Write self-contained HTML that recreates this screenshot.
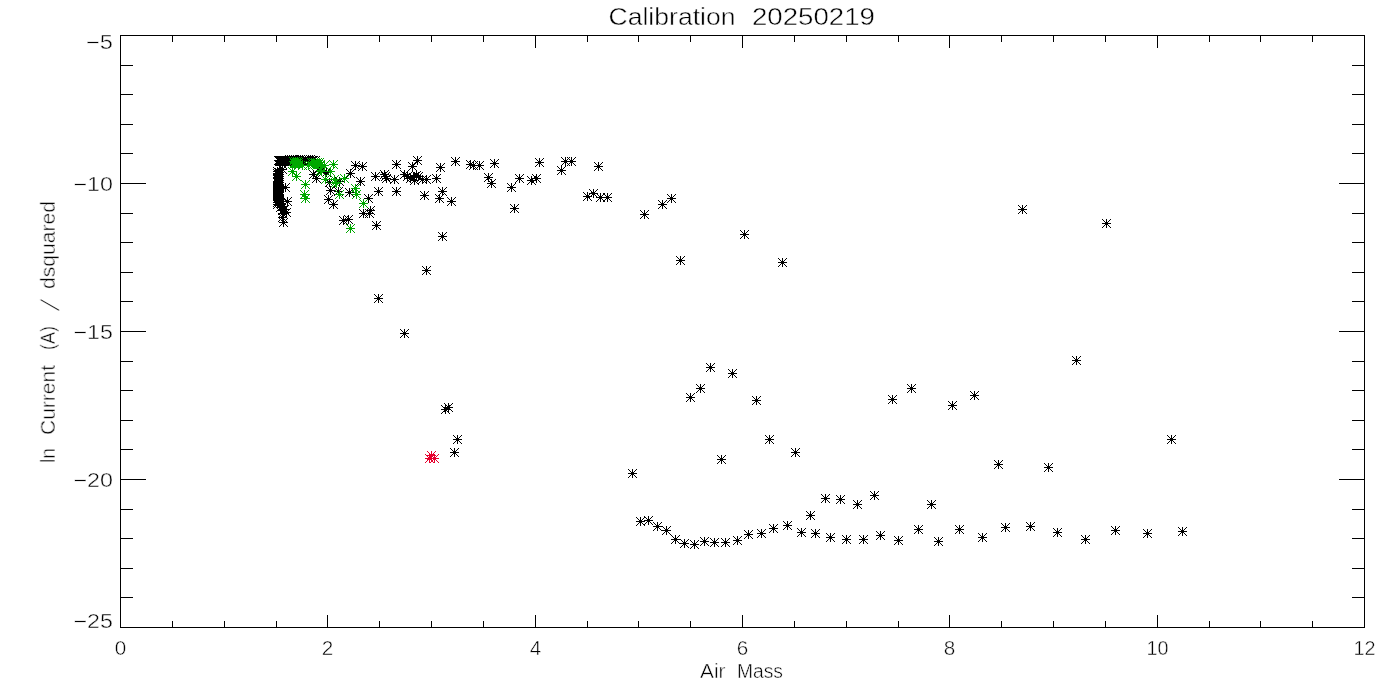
<!DOCTYPE html>
<html lang="en"><head><meta charset="utf-8"><title>Calibration 20250219</title>
<style>
html,body{margin:0;padding:0;background:#fff;}
body{width:1400px;height:700px;overflow:hidden;}
svg{display:block;}
text{font-family:"Liberation Sans","DejaVu Sans",sans-serif;fill:#000;stroke:#fff;stroke-width:0.45px;}
</style></head><body>
<svg width="1400" height="700" viewBox="0 0 1400 700">
<rect width="1400" height="700" fill="#fff"/>
<g fill="none" stroke-width="1" shape-rendering="crispEdges">
<path stroke="#000" d="M120.5 35.5H1364.5V627.5H120.5ZM172.5 628v-7M172.5 35v7M224.5 628v-7M224.5 35v7M276.5 628v-7M276.5 35v7M327.5 628v-13M327.5 35v13M379.5 628v-7M379.5 35v7M431.5 628v-7M431.5 35v7M483.5 628v-7M483.5 35v7M535.5 628v-13M535.5 35v13M587.5 628v-7M587.5 35v7M638.5 628v-7M638.5 35v7M690.5 628v-7M690.5 35v7M742.5 628v-13M742.5 35v13M794.5 628v-7M794.5 35v7M846.5 628v-7M846.5 35v7M898.5 628v-7M898.5 35v7M949.5 628v-13M949.5 35v13M1001.5 628v-7M1001.5 35v7M1053.5 628v-7M1053.5 35v7M1105.5 628v-7M1105.5 35v7M1157.5 628v-13M1157.5 35v13M1209.5 628v-7M1209.5 35v7M1260.5 628v-7M1260.5 35v7M1312.5 628v-7M1312.5 35v7M120 65.5h13M1365 65.5h-13M120 94.5h13M1365 94.5h-13M120 124.5h13M1365 124.5h-13M120 153.5h13M1365 153.5h-13M120 183.5h26M1365 183.5h-26M120 213.5h13M1365 213.5h-13M120 242.5h13M1365 242.5h-13M120 272.5h13M1365 272.5h-13M120 301.5h13M1365 301.5h-13M120 331.5h26M1365 331.5h-26M120 361.5h13M1365 361.5h-13M120 390.5h13M1365 390.5h-13M120 420.5h13M1365 420.5h-13M120 449.5h13M1365 449.5h-13M120 479.5h26M1365 479.5h-26M120 509.5h13M1365 509.5h-13M120 538.5h13M1365 538.5h-13M120 568.5h13M1365 568.5h-13M120 597.5h13M1365 597.5h-13"/>
<path stroke="#000" d="M274 160.5h9M278.5 156v9M274 156l9 9M283 156l-9 9M275 160.5h9M279.5 156v9M275 156l9 9M284 156l-9 9M276 160.5h9M280.5 156v9M276 156l9 9M285 156l-9 9M277 160.5h9M281.5 156v9M277 156l9 9M286 156l-9 9M278 160.5h9M282.5 156v9M278 156l9 9M287 156l-9 9M279 160.5h9M283.5 156v9M279 156l9 9M288 156l-9 9M280 160.5h9M284.5 156v9M280 156l9 9M289 156l-9 9M281 160.5h9M285.5 156v9M281 156l9 9M290 156l-9 9M282 160.5h9M286.5 156v9M282 156l9 9M291 156l-9 9M283 160.5h9M287.5 156v9M283 156l9 9M292 156l-9 9M284 160.5h9M288.5 156v9M284 156l9 9M293 156l-9 9M285 160.5h9M289.5 156v9M285 156l9 9M294 156l-9 9M286 160.5h9M290.5 156v9M286 156l9 9M295 156l-9 9M287 160.5h9M291.5 156v9M287 156l9 9M296 156l-9 9M288 160.5h9M292.5 156v9M288 156l9 9M297 156l-9 9M289 160.5h9M293.5 156v9M289 156l9 9M298 156l-9 9M290 160.5h9M294.5 156v9M290 156l9 9M299 156l-9 9M291 160.5h9M295.5 156v9M291 156l9 9M300 156l-9 9M292 160.5h9M296.5 156v9M292 156l9 9M301 156l-9 9M293 160.5h9M297.5 156v9M293 156l9 9M302 156l-9 9M294 160.5h9M298.5 156v9M294 156l9 9M303 156l-9 9M295 160.5h9M299.5 156v9M295 156l9 9M304 156l-9 9M275 161.5h9M279.5 157v9M275 157l9 9M284 157l-9 9M276 161.5h9M280.5 157v9M276 157l9 9M285 157l-9 9M277 161.5h9M281.5 157v9M277 157l9 9M286 157l-9 9M279 161.5h9M283.5 157v9M279 157l9 9M288 157l-9 9M280 161.5h9M284.5 157v9M280 157l9 9M289 157l-9 9M282 161.5h9M286.5 157v9M282 157l9 9M291 157l-9 9M283 161.5h9M287.5 157v9M283 157l9 9M292 157l-9 9M286 161.5h9M290.5 157v9M286 157l9 9M295 157l-9 9M285 159.5h9M289.5 155v9M285 155l9 9M294 155l-9 9M287 159.5h9M291.5 155v9M287 155l9 9M296 155l-9 9M289 159.5h9M293.5 155v9M289 155l9 9M298 155l-9 9M296 159.5h9M300.5 155v9M296 155l9 9M305 155l-9 9M298 159.5h9M302.5 155v9M298 155l9 9M307 155l-9 9M299 160.5h9M303.5 156v9M299 156l9 9M308 156l-9 9M301 160.5h9M305.5 156v9M301 156l9 9M310 156l-9 9M303 160.5h9M307.5 156v9M303 156l9 9M312 156l-9 9M304 159.5h9M308.5 155v9M304 155l9 9M313 155l-9 9M306 159.5h9M310.5 155v9M306 155l9 9M315 155l-9 9M307 160.5h9M311.5 156v9M307 156l9 9M316 156l-9 9M309 160.5h9M313.5 156v9M309 156l9 9M318 156l-9 9M300 161.5h9M304.5 157v9M300 157l9 9M309 157l-9 9M305 161.5h9M309.5 157v9M305 157l9 9M314 157l-9 9M308 160.5h9M312.5 156v9M308 156l9 9M317 156l-9 9M311 160.5h9M315.5 156v9M311 156l9 9M320 156l-9 9M273 171.5h9M277.5 167v9M273 167l9 9M282 167l-9 9M275 172.5h9M279.5 168v9M275 168l9 9M284 168l-9 9M275 172.5h9M279.5 168v9M275 168l9 9M284 168l-9 9M273 173.5h9M277.5 169v9M273 169l9 9M282 169l-9 9M274 174.5h9M278.5 170v9M274 170l9 9M283 170l-9 9M275 174.5h9M279.5 170v9M275 170l9 9M284 170l-9 9M274 175.5h9M278.5 171v9M274 171l9 9M283 171l-9 9M275 176.5h9M279.5 172v9M275 172l9 9M284 172l-9 9M275 176.5h9M279.5 172v9M275 172l9 9M284 172l-9 9M273 177.5h9M277.5 173v9M273 173l9 9M282 173l-9 9M275 178.5h9M279.5 174v9M275 174l9 9M284 174l-9 9M273 178.5h9M277.5 174v9M273 174l9 9M282 174l-9 9M274 179.5h9M278.5 175v9M274 175l9 9M283 175l-9 9M274 180.5h9M278.5 176v9M274 176l9 9M283 176l-9 9M275 180.5h9M279.5 176v9M275 176l9 9M284 176l-9 9M273 181.5h9M277.5 177v9M273 177l9 9M282 177l-9 9M273 182.5h9M277.5 178v9M273 178l9 9M282 178l-9 9M275 182.5h9M279.5 178v9M275 178l9 9M284 178l-9 9M274 183.5h9M278.5 179v9M274 179l9 9M283 179l-9 9M275 184.5h9M279.5 180v9M275 180l9 9M284 180l-9 9M275 184.5h9M279.5 180v9M275 180l9 9M284 180l-9 9M274 185.5h9M278.5 181v9M274 181l9 9M283 181l-9 9M274 186.5h9M278.5 182v9M274 182l9 9M283 182l-9 9M275 186.5h9M279.5 182v9M275 182l9 9M284 182l-9 9M273 187.5h9M277.5 183v9M273 183l9 9M282 183l-9 9M273 188.5h9M277.5 184v9M273 184l9 9M282 184l-9 9M275 188.5h9M279.5 184v9M275 184l9 9M284 184l-9 9M273 189.5h9M277.5 185v9M273 185l9 9M282 185l-9 9M275 190.5h9M279.5 186v9M275 186l9 9M284 186l-9 9M274 190.5h9M278.5 186v9M274 186l9 9M283 186l-9 9M275 191.5h9M279.5 187v9M275 187l9 9M284 187l-9 9M273 192.5h9M277.5 188v9M273 188l9 9M282 188l-9 9M275 192.5h9M279.5 188v9M275 188l9 9M284 188l-9 9M273 193.5h9M277.5 189v9M273 189l9 9M282 189l-9 9M273 194.5h9M277.5 190v9M273 190l9 9M282 190l-9 9M275 194.5h9M279.5 190v9M275 190l9 9M284 190l-9 9M273 195.5h9M277.5 191v9M273 191l9 9M282 191l-9 9M274 196.5h9M278.5 192v9M274 192l9 9M283 192l-9 9M273 196.5h9M277.5 192v9M273 192l9 9M282 192l-9 9M274 197.5h9M278.5 193v9M274 193l9 9M283 193l-9 9M274 198.5h9M278.5 194v9M274 194l9 9M283 194l-9 9M275 198.5h9M279.5 194v9M275 194l9 9M284 194l-9 9M275 199.5h9M279.5 195v9M275 195l9 9M284 195l-9 9M274 200.5h9M278.5 196v9M274 196l9 9M283 196l-9 9M275 200.5h9M279.5 196v9M275 196l9 9M284 196l-9 9M278 164.5h9M282.5 160v9M278 160l9 9M287 160l-9 9M278 169.5h9M282.5 165v9M278 165l9 9M287 165l-9 9M273 202.5h9M277.5 198v9M273 198l9 9M282 198l-9 9M275 201.5h9M279.5 197v9M275 197l9 9M284 197l-9 9M276 203.5h9M280.5 199v9M276 199l9 9M285 199l-9 9M273 204.5h9M277.5 200v9M273 200l9 9M282 200l-9 9M277 204.5h9M281.5 200v9M277 200l9 9M286 200l-9 9M278 206.5h9M282.5 202v9M278 202l9 9M287 202l-9 9M276 207.5h9M280.5 203v9M276 203l9 9M285 203l-9 9M280 209.5h9M284.5 205v9M280 205l9 9M289 205l-9 9M278 210.5h9M282.5 206v9M278 206l9 9M287 206l-9 9M282 212.5h9M286.5 208v9M282 208l9 9M291 208l-9 9M278 213.5h9M282.5 209v9M278 209l9 9M287 209l-9 9M281 187.5h9M285.5 183v9M281 183l9 9M290 183l-9 9M283 201.5h9M287.5 197v9M283 197l9 9M292 197l-9 9M278 217.5h9M282.5 213v9M278 213l9 9M287 213l-9 9M279 222.5h9M283.5 218v9M279 218l9 9M288 218l-9 9M309 174.5h9M313.5 170v9M309 170l9 9M318 170l-9 9M312 178.5h9M316.5 174v9M312 174l9 9M321 174l-9 9M334 191.5h9M338.5 187v9M334 187l9 9M343 187l-9 9M325 182.5h9M329.5 178v9M325 178l9 9M334 178l-9 9M335 181.5h9M339.5 177v9M335 177l9 9M344 177l-9 9M326 190.5h9M330.5 186v9M326 186l9 9M335 186l-9 9M324 199.5h9M328.5 195v9M324 195l9 9M333 195l-9 9M329 204.5h9M333.5 200v9M329 200l9 9M338 200l-9 9M345 192.5h9M349.5 188v9M345 188l9 9M354 188l-9 9M346 173.5h9M350.5 169v9M346 169l9 9M355 169l-9 9M339 220.5h9M343.5 216v9M339 216l9 9M348 216l-9 9M344 219.5h9M348.5 215v9M344 215l9 9M353 215l-9 9M314 168.5h9M318.5 164v9M314 164l9 9M323 164l-9 9M317 170.5h9M321.5 166v9M317 166l9 9M326 166l-9 9M322 172.5h9M326.5 168v9M322 168l9 9M331 168l-9 9M351 165.5h9M355.5 161v9M351 161l9 9M360 161l-9 9M358 166.5h9M362.5 162v9M358 162l9 9M367 162l-9 9M356 181.5h9M360.5 177v9M356 177l9 9M365 177l-9 9M371 176.5h9M375.5 172v9M371 172l9 9M380 172l-9 9M380 174.5h9M384.5 170v9M380 170l9 9M389 170l-9 9M381 176.5h9M385.5 172v9M381 172l9 9M390 172l-9 9M382 178.5h9M386.5 174v9M382 174l9 9M391 174l-9 9M390 179.5h9M394.5 175v9M390 175l9 9M399 175l-9 9M392 164.5h9M396.5 160v9M392 160l9 9M401 160l-9 9M374 191.5h9M378.5 187v9M374 187l9 9M383 187l-9 9M392 191.5h9M396.5 187v9M392 187l9 9M401 187l-9 9M364 198.5h9M368.5 194v9M364 194l9 9M373 194l-9 9M359 213.5h9M363.5 209v9M359 209l9 9M368 209l-9 9M365 213.5h9M369.5 209v9M365 209l9 9M374 209l-9 9M366 210.5h9M370.5 206v9M366 206l9 9M375 206l-9 9M372 225.5h9M376.5 221v9M372 221l9 9M381 221l-9 9M408 166.5h9M412.5 162v9M408 162l9 9M417 162l-9 9M413 160.5h9M417.5 156v9M413 156l9 9M422 156l-9 9M400 174.5h9M404.5 170v9M400 170l9 9M409 170l-9 9M403 176.5h9M407.5 172v9M403 172l9 9M412 172l-9 9M406 178.5h9M410.5 174v9M406 174l9 9M415 174l-9 9M409 177.5h9M413.5 173v9M409 173l9 9M418 173l-9 9M412 175.5h9M416.5 171v9M412 171l9 9M421 171l-9 9M410 180.5h9M414.5 176v9M410 176l9 9M419 176l-9 9M414 176.5h9M418.5 172v9M414 172l9 9M423 172l-9 9M418 179.5h9M422.5 175v9M418 175l9 9M427 175l-9 9M422 179.5h9M426.5 175v9M422 175l9 9M431 175l-9 9M432 178.5h9M436.5 174v9M432 174l9 9M441 174l-9 9M436 167.5h9M440.5 163v9M436 163l9 9M445 163l-9 9M451 161.5h9M455.5 157v9M451 157l9 9M460 157l-9 9M420 195.5h9M424.5 191v9M420 191l9 9M429 191l-9 9M438 191.5h9M442.5 187v9M438 187l9 9M447 187l-9 9M435 198.5h9M439.5 194v9M435 194l9 9M444 194l-9 9M447 201.5h9M451.5 197v9M447 197l9 9M456 197l-9 9M438 236.5h9M442.5 232v9M438 232l9 9M447 232l-9 9M466 164.5h9M470.5 160v9M466 160l9 9M475 160l-9 9M469 165.5h9M473.5 161v9M469 161l9 9M478 161l-9 9M475 165.5h9M479.5 161v9M475 161l9 9M484 161l-9 9M490 163.5h9M494.5 159v9M490 159l9 9M499 159l-9 9M484 177.5h9M488.5 173v9M484 173l9 9M493 173l-9 9M487 183.5h9M491.5 179v9M487 179l9 9M496 179l-9 9M507 187.5h9M511.5 183v9M507 183l9 9M516 183l-9 9M515 178.5h9M519.5 174v9M515 174l9 9M524 174l-9 9M510 208.5h9M514.5 204v9M510 204l9 9M519 204l-9 9M527 180.5h9M531.5 176v9M527 176l9 9M536 176l-9 9M532 178.5h9M536.5 174v9M532 174l9 9M541 174l-9 9M535 162.5h9M539.5 158v9M535 158l9 9M544 158l-9 9M557 170.5h9M561.5 166v9M557 166l9 9M566 166l-9 9M561 161.5h9M565.5 157v9M561 157l9 9M570 157l-9 9M567 161.5h9M571.5 157v9M567 157l9 9M576 157l-9 9M594 166.5h9M598.5 162v9M594 162l9 9M603 162l-9 9M583 196.5h9M587.5 192v9M583 192l9 9M592 192l-9 9M589 193.5h9M593.5 189v9M589 189l9 9M598 189l-9 9M596 197.5h9M600.5 193v9M596 193l9 9M605 193l-9 9M603 197.5h9M607.5 193v9M603 193l9 9M612 193l-9 9M640 214.5h9M644.5 210v9M640 210l9 9M649 210l-9 9M658 204.5h9M662.5 200v9M658 200l9 9M667 200l-9 9M667 198.5h9M671.5 194v9M667 194l9 9M676 194l-9 9M676 260.5h9M680.5 256v9M676 256l9 9M685 256l-9 9M740 234.5h9M744.5 230v9M740 230l9 9M749 230l-9 9M778 262.5h9M782.5 258v9M778 258l9 9M787 258l-9 9M422 270.5h9M426.5 266v9M422 266l9 9M431 266l-9 9M374 298.5h9M378.5 294v9M374 294l9 9M383 294l-9 9M400 333.5h9M404.5 329v9M400 329l9 9M409 329l-9 9M441 409.5h9M445.5 405v9M441 405l9 9M450 405l-9 9M444 407.5h9M448.5 403v9M444 403l9 9M453 403l-9 9M453 439.5h9M457.5 435v9M453 435l9 9M462 435l-9 9M450 452.5h9M454.5 448v9M450 448l9 9M459 448l-9 9M628 473.5h9M632.5 469v9M628 469l9 9M637 469l-9 9M686 397.5h9M690.5 393v9M686 393l9 9M695 393l-9 9M696 388.5h9M700.5 384v9M696 384l9 9M705 384l-9 9M706 367.5h9M710.5 363v9M706 363l9 9M715 363l-9 9M728 373.5h9M732.5 369v9M728 369l9 9M737 369l-9 9M752 400.5h9M756.5 396v9M752 396l9 9M761 396l-9 9M765 439.5h9M769.5 435v9M765 435l9 9M774 435l-9 9M791 452.5h9M795.5 448v9M791 448l9 9M800 448l-9 9M717 459.5h9M721.5 455v9M717 455l9 9M726 455l-9 9M636 521.5h9M640.5 517v9M636 517l9 9M645 517l-9 9M644 520.5h9M648.5 516v9M644 516l9 9M653 516l-9 9M653 526.5h9M657.5 522v9M653 522l9 9M662 522l-9 9M662 530.5h9M666.5 526v9M662 526l9 9M671 526l-9 9M671 539.5h9M675.5 535v9M671 535l9 9M680 535l-9 9M680 543.5h9M684.5 539v9M680 539l9 9M689 539l-9 9M690 544.5h9M694.5 540v9M690 540l9 9M699 540l-9 9M700 541.5h9M704.5 537v9M700 537l9 9M709 537l-9 9M710 542.5h9M714.5 538v9M710 538l9 9M719 538l-9 9M721 542.5h9M725.5 538v9M721 538l9 9M730 538l-9 9M733 540.5h9M737.5 536v9M733 536l9 9M742 536l-9 9M744 534.5h9M748.5 530v9M744 530l9 9M753 530l-9 9M757 533.5h9M761.5 529v9M757 529l9 9M766 529l-9 9M769 528.5h9M773.5 524v9M769 524l9 9M778 524l-9 9M783 525.5h9M787.5 521v9M783 521l9 9M792 521l-9 9M797 532.5h9M801.5 528v9M797 528l9 9M806 528l-9 9M806 515.5h9M810.5 511v9M806 511l9 9M815 511l-9 9M811 533.5h9M815.5 529v9M811 529l9 9M820 529l-9 9M821 498.5h9M825.5 494v9M821 494l9 9M830 494l-9 9M836 499.5h9M840.5 495v9M836 495l9 9M845 495l-9 9M826 537.5h9M830.5 533v9M826 533l9 9M835 533l-9 9M842 539.5h9M846.5 535v9M842 535l9 9M851 535l-9 9M853 504.5h9M857.5 500v9M853 500l9 9M862 500l-9 9M859 539.5h9M863.5 535v9M859 535l9 9M868 535l-9 9M870 495.5h9M874.5 491v9M870 491l9 9M879 491l-9 9M876 535.5h9M880.5 531v9M876 531l9 9M885 531l-9 9M894 540.5h9M898.5 536v9M894 536l9 9M903 536l-9 9M914 529.5h9M918.5 525v9M914 525l9 9M923 525l-9 9M927 504.5h9M931.5 500v9M927 500l9 9M936 500l-9 9M934 541.5h9M938.5 537v9M934 537l9 9M943 537l-9 9M955 529.5h9M959.5 525v9M955 525l9 9M964 525l-9 9M978 537.5h9M982.5 533v9M978 533l9 9M987 533l-9 9M1001 527.5h9M1005.5 523v9M1001 523l9 9M1010 523l-9 9M1026 526.5h9M1030.5 522v9M1026 522l9 9M1035 522l-9 9M1053 532.5h9M1057.5 528v9M1053 528l9 9M1062 528l-9 9M1081 539.5h9M1085.5 535v9M1081 535l9 9M1090 535l-9 9M1111 530.5h9M1115.5 526v9M1111 526l9 9M1120 526l-9 9M1143 533.5h9M1147.5 529v9M1143 529l9 9M1152 529l-9 9M1178 531.5h9M1182.5 527v9M1178 527l9 9M1187 527l-9 9M888 399.5h9M892.5 395v9M888 395l9 9M897 395l-9 9M907 388.5h9M911.5 384v9M907 384l9 9M916 384l-9 9M948 405.5h9M952.5 401v9M948 401l9 9M957 401l-9 9M970 395.5h9M974.5 391v9M970 391l9 9M979 391l-9 9M994 464.5h9M998.5 460v9M994 460l9 9M1003 460l-9 9M1044 467.5h9M1048.5 463v9M1044 463l9 9M1053 463l-9 9M1072 360.5h9M1076.5 356v9M1072 356l9 9M1081 356l-9 9M1167 439.5h9M1171.5 435v9M1167 435l9 9M1176 435l-9 9M1018 209.5h9M1022.5 205v9M1018 205l9 9M1027 205l-9 9M1102 223.5h9M1106.5 219v9M1102 219l9 9M1111 219l-9 9"/>
<path stroke="#00a800" d="M289 161.5h9M293.5 157v9M289 157l9 9M298 157l-9 9M290 162.5h9M294.5 158v9M290 158l9 9M299 158l-9 9M291 161.5h9M295.5 157v9M291 157l9 9M300 157l-9 9M292 162.5h9M296.5 158v9M292 158l9 9M301 158l-9 9M293 161.5h9M297.5 157v9M293 157l9 9M302 157l-9 9M291 163.5h9M295.5 159v9M291 159l9 9M300 159l-9 9M292 163.5h9M296.5 159v9M292 159l9 9M301 159l-9 9M293 163.5h9M297.5 159v9M293 159l9 9M302 159l-9 9M294 162.5h9M298.5 158v9M294 158l9 9M303 158l-9 9M290 163.5h9M294.5 159v9M290 159l9 9M299 159l-9 9M294 164.5h9M298.5 160v9M294 160l9 9M303 160l-9 9M288 171.5h9M292.5 167v9M288 167l9 9M297 167l-9 9M292 176.5h9M296.5 172v9M292 172l9 9M301 172l-9 9M301 184.5h9M305.5 180v9M301 180l9 9M310 180l-9 9M300 194.5h9M304.5 190v9M300 190l9 9M309 190l-9 9M301 198.5h9M305.5 194v9M301 194l9 9M310 194l-9 9M298 165.5h9M302.5 161v9M298 161l9 9M307 161l-9 9M304 165.5h9M308.5 161v9M304 161l9 9M313 161l-9 9M307 162.5h9M311.5 158v9M307 158l9 9M316 158l-9 9M308 163.5h9M312.5 159v9M308 159l9 9M317 159l-9 9M309 162.5h9M313.5 158v9M309 158l9 9M318 158l-9 9M310 163.5h9M314.5 159v9M310 159l9 9M319 159l-9 9M311 164.5h9M315.5 160v9M311 160l9 9M320 160l-9 9M312 163.5h9M316.5 159v9M312 159l9 9M321 159l-9 9M313 162.5h9M317.5 158v9M313 158l9 9M322 158l-9 9M314 164.5h9M318.5 160v9M314 160l9 9M323 160l-9 9M315 162.5h9M319.5 158v9M315 158l9 9M324 158l-9 9M316 164.5h9M320.5 160v9M316 160l9 9M325 160l-9 9M309 164.5h9M313.5 160v9M309 160l9 9M318 160l-9 9M316 170.5h9M320.5 166v9M316 166l9 9M325 166l-9 9M317 171.5h9M321.5 167v9M317 167l9 9M326 167l-9 9M320 165.5h9M324.5 161v9M320 161l9 9M329 161l-9 9M329 164.5h9M333.5 160v9M329 160l9 9M338 160l-9 9M326 171.5h9M330.5 167v9M326 167l9 9M335 167l-9 9M321 179.5h9M325.5 175v9M321 175l9 9M330 175l-9 9M330 179.5h9M334.5 175v9M330 175l9 9M339 175l-9 9M331 182.5h9M335.5 178v9M331 178l9 9M340 178l-9 9M332 183.5h9M336.5 179v9M332 179l9 9M341 179l-9 9M340 178.5h9M344.5 174v9M340 174l9 9M349 174l-9 9M335 194.5h9M339.5 190v9M335 190l9 9M344 190l-9 9M351 188.5h9M355.5 184v9M351 184l9 9M360 184l-9 9M352 194.5h9M356.5 190v9M352 190l9 9M361 190l-9 9M359 203.5h9M363.5 199v9M359 199l9 9M368 199l-9 9M346 228.5h9M350.5 224v9M346 224l9 9M355 224l-9 9"/>
<path stroke="#e6002d" d="M427 455.5h9M431.5 451v9M427 451l9 9M436 451l-9 9M425 458.5h9M429.5 454v9M425 454l9 9M434 454l-9 9M430 458.5h9M434.5 454v9M430 454l9 9M439 454l-9 9"/>
</g>
<g opacity="0.999">
<text y="25" font-size="24.6"><tspan x="608.5" textLength="127" lengthAdjust="spacingAndGlyphs">Calibration</tspan> <tspan x="752" textLength="123" lengthAdjust="spacingAndGlyphs">20250219</tspan></text>
<text x="120.5" y="655" font-size="19.6" text-anchor="middle" textLength="11.5" lengthAdjust="spacingAndGlyphs">0</text>
<text x="327.5" y="655" font-size="19.6" text-anchor="middle" textLength="11.5" lengthAdjust="spacingAndGlyphs">2</text>
<text x="535.5" y="655" font-size="19.6" text-anchor="middle" textLength="11.5" lengthAdjust="spacingAndGlyphs">4</text>
<text x="742.5" y="655" font-size="19.6" text-anchor="middle" textLength="11.5" lengthAdjust="spacingAndGlyphs">6</text>
<text x="949.5" y="655" font-size="19.6" text-anchor="middle" textLength="11.5" lengthAdjust="spacingAndGlyphs">8</text>
<text x="1157.5" y="655" font-size="19.6" text-anchor="middle" textLength="22" lengthAdjust="spacingAndGlyphs">10</text>
<text x="1364.5" y="655" font-size="19.6" text-anchor="middle" textLength="22" lengthAdjust="spacingAndGlyphs">12</text>
<text x="113" y="49" font-size="19.6" text-anchor="end" textLength="27" lengthAdjust="spacingAndGlyphs">−5</text>
<text x="113" y="190.5" font-size="19.6" text-anchor="end" textLength="39.5" lengthAdjust="spacingAndGlyphs">−10</text>
<text x="113" y="338.5" font-size="19.6" text-anchor="end" textLength="39.5" lengthAdjust="spacingAndGlyphs">−15</text>
<text x="113" y="486.5" font-size="19.6" text-anchor="end" textLength="39.5" lengthAdjust="spacingAndGlyphs">−20</text>
<text x="113" y="628" font-size="19.6" text-anchor="end" textLength="39.5" lengthAdjust="spacingAndGlyphs">−25</text>
<text y="678" font-size="19.6"><tspan x="700" textLength="25.5" lengthAdjust="spacingAndGlyphs">Air</tspan> <tspan x="737" textLength="46" lengthAdjust="spacingAndGlyphs">Mass</tspan></text>
<text y="0" font-size="19.6" transform="translate(54.8 0) rotate(-90)"><tspan x="-463" textLength="15" lengthAdjust="spacingAndGlyphs">ln</tspan> <tspan x="-435" textLength="70" lengthAdjust="spacingAndGlyphs">Current</tspan> <tspan x="-350" textLength="24" lengthAdjust="spacingAndGlyphs">(A)</tspan> <tspan x="-313" dy="4.5" font-size="27" stroke-width="1.5" textLength="16" lengthAdjust="spacingAndGlyphs">/</tspan> <tspan x="-289" dy="-4.5" textLength="88" lengthAdjust="spacingAndGlyphs">dsquared</tspan></text>
</g>
</svg>
</body></html>
